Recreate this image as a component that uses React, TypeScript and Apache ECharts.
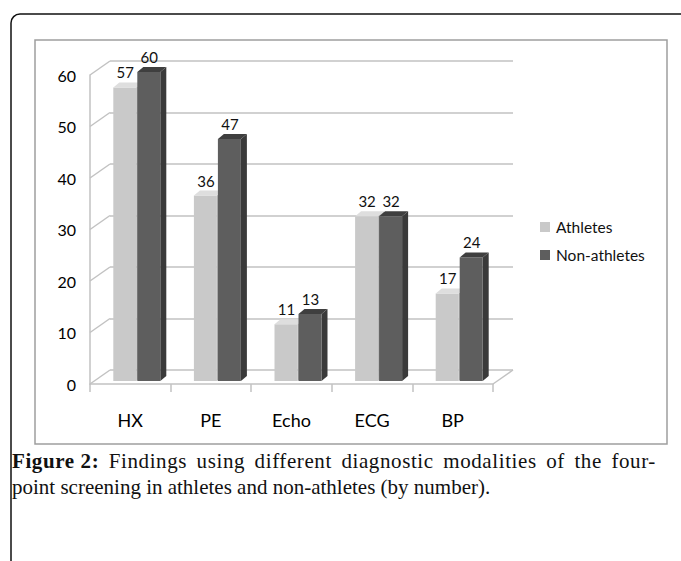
import React, { useEffect, useRef } from "react";
import * as echarts from "echarts";

const categories = ["HX", "PE", "Echo", "ECG", "BP"];
const athletes = [57, 36, 11, 32, 17];
const nonAthletes = [60, 47, 13, 32, 24];
const yTicks = [0, 10, 20, 30, 40, 50, 60];
const seriesNames = ["Athletes", "Non-athletes"];
const captionBold = "Figure 2:";
const captionLine1 = "Findings using different diagnostic modalities of the four-";
const captionLine2 = "point screening in athletes and non-athletes (by number).";

const SANS = "Lato, 'Open Sans', sans-serif";
const SERIF = "'Liberation Serif', 'DejaVu Serif', serif";
const DEPTH_X = 20;
const DEPTH_Y = 14;
const LINE_GRAY = "#c2c2c2";

function makeBarRender(offsetLeft: number, front: string, top: string, side: string) {
  return (params: any, api: any) => {
    const i = api.value(0);
    const v = api.value(1);
    const pTop = api.coord([i, v]);
    const pBase = api.coord([i, 0]);
    const w = 23;
    const dx = 6;
    const dy = 5;
    const x = pTop[0] + offsetLeft;
    const yT = pTop[1] - 3;
    const yB = pBase[1] - 3;
    return {
      type: "group",
      children: [
        {
          type: "polygon",
          shape: { points: [[x + w, yT], [x + w + dx, yT - dy], [x + w + dx, yB - dy], [x + w, yB]] },
          style: { fill: side },
        },
        {
          type: "rect",
          shape: { x, y: yT, width: w, height: yB - yT },
          style: { fill: front },
        },
        {
          type: "polygon",
          shape: { points: [[x, yT], [x + dx, yT - dy], [x + w + dx, yT - dy], [x + w, yT]] },
          style: { fill: top },
        },
        {
          type: "text",
          style: {
            text: String(v),
            x: x + w / 2 + 0.5,
            y: yT - 15,
            textAlign: "center",
            align: "center",
            textVerticalAlign: "middle",
            verticalAlign: "middle",
            fill: "#111111",
            font: `15px ${SANS}`,
          },
        },
      ],
    };
  };
}

function wallRender(params: any, api: any) {
  const v = api.value(1);
  const p = api.coord([0, v]);
  const band = api.size([1, 0])[0];
  const x0 = p[0] - band / 2;
  const children: any[] = [
    {
      type: "line",
      shape: { x1: x0, y1: p[1], x2: x0 + DEPTH_X, y2: p[1] - DEPTH_Y },
      style: { stroke: LINE_GRAY, lineWidth: 1.5 },
    },
  ];
  if (v === 0) {
    const pr = api.coord([categories.length - 1, 0]);
    const x1 = pr[0] + band / 2;
    children.push({
      type: "line",
      shape: { x1, y1: pr[1], x2: x1 + DEPTH_X, y2: pr[1] - DEPTH_Y },
      style: { stroke: LINE_GRAY, lineWidth: 1.5 },
    });
  }
  return { type: "group", children };
}

export default function App() {
  const ref = useRef<HTMLDivElement>(null);
  useEffect(() => {
    if (!ref.current) return;
    const chart = echarts.init(ref.current, undefined, { renderer: "svg" });
    chart.setOption({
      animation: false,
      backgroundColor: "#ffffff",
      grid: [
        { left: 90, top: 75, width: 403, height: 309 },
        { left: 90 + DEPTH_X, top: 75 - DEPTH_Y, width: 403, height: 309 },
      ],
      xAxis: [
        {
          type: "category",
          gridIndex: 0,
          data: categories,
          axisLine: { show: true, lineStyle: { color: LINE_GRAY, width: 1.5 } },
          axisTick: { show: true, interval: 0, length: 8, lineStyle: { color: LINE_GRAY, width: 1.5 } },
          axisLabel: { color: "#000000", fontSize: 18, fontFamily: SANS, margin: 27 },
          splitLine: { show: false },
        },
        {
          type: "category",
          gridIndex: 1,
          data: categories,
          show: false,
        },
      ],
      yAxis: [
        {
          type: "value",
          gridIndex: 0,
          min: 0,
          max: 60,
          interval: 10,
          axisLine: { show: true, lineStyle: { color: LINE_GRAY, width: 1.5 } },
          axisTick: { show: false },
          axisLabel: { color: "#000000", fontSize: 16, fontFamily: SANS, margin: 14 },
          splitLine: { show: false },
        },
        {
          type: "value",
          gridIndex: 1,
          min: 0,
          max: 60,
          interval: 10,
          axisLine: { show: false },
          axisTick: { show: false },
          axisLabel: { show: false },
          splitLine: { show: true, lineStyle: { color: LINE_GRAY, width: 1.5 } },
        },
      ],
      legend: {
        orient: "vertical",
        left: 540,
        top: 219,
        padding: 0,
        itemWidth: 10,
        itemHeight: 10,
        itemGap: 12,
        icon: "rect",
        data: seriesNames,
        textStyle: { color: "#111111", fontSize: 15.5, fontFamily: SANS, padding: [0, 0, 0, 1] },
      },
      graphic: [
        {
          type: "rect",
          shape: { x: 11, y: 14, width: 720, height: 620, r: 9 },
          style: { fill: "none", stroke: "#111111", lineWidth: 1.5 },
          silent: true,
        },
        {
          type: "rect",
          shape: { x: 35, y: 40, width: 632, height: 404 },
          style: { fill: "none", stroke: "#9e9e9e", lineWidth: 1.5 },
          silent: true,
        },
      ],
      series: [
        {
          type: "custom",
          name: "wall",
          xAxisIndex: 0,
          yAxisIndex: 0,
          silent: true,
          renderItem: wallRender,
          data: yTicks.map((v) => [0, v]),
          z: 1,
        },
        {
          type: "custom",
          name: seriesNames[0],
          xAxisIndex: 0,
          yAxisIndex: 0,
          itemStyle: { color: "#c9c9c9" },
          renderItem: makeBarRender(-17, "#c9c9c9", "#dedede", "#b3b3b3"),
          data: athletes.map((v, i) => [i, v]),
          encode: { x: 0, y: 1 },
          z: 3,
        },
        {
          type: "custom",
          name: seriesNames[1],
          xAxisIndex: 0,
          yAxisIndex: 0,
          itemStyle: { color: "#5e5e5e" },
          renderItem: makeBarRender(7, "#5e5e5e", "#3f3f3f", "#3a3a3a"),
          data: nonAthletes.map((v, i) => [i, v]),
          encode: { x: 0, y: 1 },
          z: 4,
        },
      ],
    });
    return () => chart.dispose();
  }, []);
  const captionText = {
    fontFamily: SERIF,
    fontSize: 21,
    lineHeight: "26px",
    color: "#111111",
    margin: 0,
    whiteSpace: "nowrap" as const,
  };
  return (
    <div style={{ position: "absolute", left: 0, top: 0, width: 681, height: 561, overflow: "hidden" }}>
      <div ref={ref} style={{ position: "absolute", left: 0, top: 0, width: 681, height: 561 }} />
      <div
        style={{
          ...captionText,
          position: "absolute",
          left: 12,
          top: 448,
          width: 644,
          display: "flex",
          justifyContent: "space-between",
          letterSpacing: "0.6px",
        }}
      >
        {[captionBold, ...captionLine1.split(" ")].map((word, k) => (
          <span key={k} style={{ fontWeight: k === 0 ? "bold" : "normal" }}>
            {word}
          </span>
        ))}
      </div>
      <div style={{ ...captionText, position: "absolute", left: 12, top: 474 }}>{captionLine2}</div>
    </div>
  );
}
